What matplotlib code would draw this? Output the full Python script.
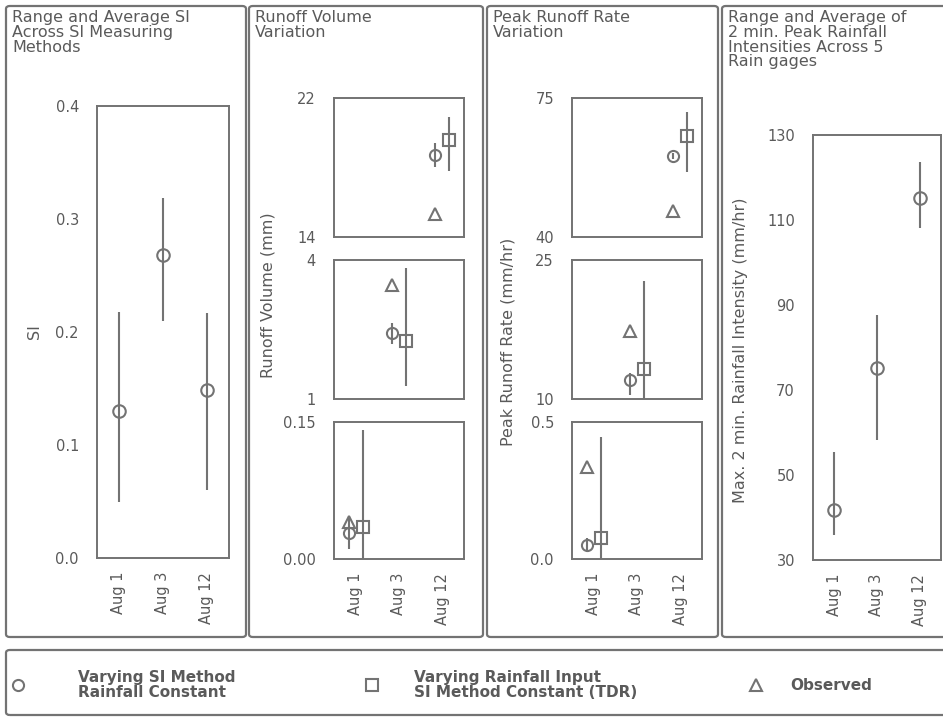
import matplotlib
matplotlib.use("Agg")
import matplotlib.pyplot as plt
from matplotlib.patches import FancyBboxPatch
from matplotlib.lines import Line2D

plt.rcParams['font.family'] = ['DejaVu Sans']

# ---- data -------------------------------------------------------------
dates = ["Aug 1", "Aug 3", "Aug 12"]

# Soil index (SI): average and range across measuring methods
si_mean = [0.130, 0.268, 0.149]
si_low = [0.050, 0.210, 0.060]
si_high = [0.218, 0.319, 0.217]

# Runoff volume (mm)
vol_si_mean = [0.029, 2.43, 18.7]
vol_si_low = [0.011, 2.18, 18.0]
vol_si_high = [0.047, 2.65, 19.4]
vol_rain_mean = [0.035, 2.26, 19.6]
vol_rain_low = [0.000, 1.28, 17.8]
vol_rain_high = [0.141, 3.83, 20.9]
vol_obs = [0.040, 3.46, 15.3]
vol_limits = [(0.0, 0.15), (1, 4), (14, 22)]
vol_ticklabels = [("0.00", "0.15"), ("1", "4"), ("14", "22")]

# Peak runoff rate (mm/hr)
rate_si_mean = [0.051, 12.1, 60.4]
rate_si_low = [0.030, 10.4, 59.6]
rate_si_high = [0.075, 12.8, 61.2]
rate_rain_mean = [0.077, 13.2, 65.4]
rate_rain_low = [0.000, 10.0, 56.4]
rate_rain_high = [0.445, 22.7, 71.5]
rate_obs = [0.336, 17.3, 46.6]
rate_limits = [(0.0, 0.5), (10, 25), (40, 75)]
rate_ticklabels = [("0.0", "0.5"), ("10", "25"), ("40", "75")]

# Max 2-min rainfall intensity (mm/hr) across 5 rain gages
rain_mean = [41.8, 75.2, 115.2]
rain_low = [35.9, 58.2, 108.1]
rain_high = [55.4, 87.6, 123.6]

# ---- style ------------------------------------------------------------
W, H = 943, 720
TXT = '#5a5a5a'
LN = '#737373'
FS = 11.5      # titles and axis labels
TFS = 10.5     # tick labels
OFF = 0.16     # horizontal offset between the two simulated series

fig = plt.figure(figsize=(W / 100, H / 100), dpi=100)
fig.patch.set_facecolor('white')


def box(x0, y0, x1, y1):
    return [x0 / W, 1 - y1 / H, (x1 - x0) / W, (y1 - y0) / H]


def fx(x):
    return x / W


def fy(y):
    return 1 - y / H


def frame(x0, y0, x1, y1):
    p = FancyBboxPatch((fx(x0), fy(y1)), fx(x1) - fx(x0), fy(y0) - fy(y1),
                       boxstyle="round,pad=0,rounding_size=0.004",
                       transform=fig.transFigure, fill=False,
                       edgecolor=LN, linewidth=1.6, clip_on=False)
    fig.add_artist(p)


def style_axes(ax, ylim, yticks, yticklabels, show_x):
    ax.set_xlim(0.5, 3.5)
    ax.set_ylim(*ylim)
    ax.set_yticks(yticks)
    ax.set_yticklabels(yticklabels)
    ax.tick_params(axis='y', length=0, pad=13, labelsize=TFS, labelcolor=TXT)
    if show_x:
        ax.set_xticks([1, 2, 3])
        ax.set_xticklabels(dates, rotation=90)
        ax.tick_params(axis='x', length=0, pad=10, labelsize=TFS, labelcolor=TXT)
    else:
        ax.set_xticks([])
    for s in ax.spines.values():
        s.set_color(LN)
        s.set_linewidth(1.4)


def range_point(ax, x, mean, lo, hi, marker, ms):
    ax.plot([x, x], [lo, hi], color=LN, lw=1.5, solid_capstyle='butt', zorder=2)
    ax.plot([x], [mean], marker=marker, ms=ms, mfc='none', mec=LN, mew=1.5,
            linestyle='none', zorder=3)


# ---- outer panels -----------------------------------------------------
frame(6, 6, 246, 637)
frame(249, 6, 483, 637)
frame(487, 6, 718, 637)
frame(722, 6, 965, 637)
frame(6, 650, 965, 715)

titles = [
    (12, "Range and Average SI\nAcross SI Measuring\nMethods"),
    (255, "Runoff Volume\nVariation"),
    (493, "Peak Runoff Rate\nVariation"),
    (728, "Range and Average of\n2 min. Peak Rainfall\nIntensities Across 5\nRain gages"),
]
for x, t in titles:
    fig.text(fx(x), fy(10), t, ha='left', va='top', fontsize=FS, color=TXT,
             linespacing=0.98)

# ---- SI panel ---------------------------------------------------------
ax1 = fig.add_axes(box(97, 106, 229, 558))
style_axes(ax1, (0.0, 0.4), [0.0, 0.1, 0.2, 0.3, 0.4],
           ["0.0", "0.1", "0.2", "0.3", "0.4"], True)
for i in range(3):
    range_point(ax1, i + 1, si_mean[i], si_low[i], si_high[i], 'o', 9)
fig.text(fx(35), fy(332), "SI", rotation=90, ha='center', va='center',
         fontsize=FS, color=TXT)

# ---- stacked panels (one date per sub-axes) ---------------------------
sub_rows = [(422, 559), (260, 399), (98, 237)]  # Aug 1, Aug 3, Aug 12


def stacked(x0, x1, limits, ticklabels, si_m, si_l, si_h, r_m, r_l, r_h, obs):
    for i, (y0, y1) in enumerate(sub_rows):
        ax = fig.add_axes(box(x0, y0, x1, y1))
        style_axes(ax, limits[i], list(limits[i]), list(ticklabels[i]), i == 0)
        x = i + 1
        range_point(ax, x + OFF, r_m[i], r_l[i], r_h[i], 's', 8)
        range_point(ax, x - OFF, si_m[i], si_l[i], si_h[i], 'o', 8)
        ax.plot([x - OFF], [obs[i]], marker='^', ms=9, mfc='none', mec=LN,
                mew=1.5, linestyle='none', zorder=3)


stacked(334, 464, vol_limits, vol_ticklabels, vol_si_mean, vol_si_low,
        vol_si_high, vol_rain_mean, vol_rain_low, vol_rain_high, vol_obs)
fig.text(fx(268), fy(295), "Runoff Volume (mm)", rotation=90, ha='center',
         va='center', fontsize=FS, color=TXT)

stacked(572, 702, rate_limits, rate_ticklabels, rate_si_mean, rate_si_low,
        rate_si_high, rate_rain_mean, rate_rain_low, rate_rain_high, rate_obs)
fig.text(fx(508), fy(342), "Peak Runoff Rate (mm/hr)", rotation=90,
         ha='center', va='center', fontsize=FS, color=TXT)

# ---- rainfall panel ---------------------------------------------------
ax4 = fig.add_axes(box(813, 135, 941, 560))
style_axes(ax4, (30, 130), [30, 50, 70, 90, 110, 130],
           ["30", "50", "70", "90", "110", "130"], True)
for i in range(3):
    range_point(ax4, i + 1, rain_mean[i], rain_low[i], rain_high[i], 'o', 9)
fig.text(fx(741), fy(350), "Max. 2 min. Rainfall Intensity (mm/hr)",
         rotation=90, ha='center', va='center', fontsize=FS, color=TXT)

# ---- legend -----------------------------------------------------------
legend_items = [
    (18, 'o', 78, "Varying SI Method\nRainfall Constant"),
    (372, 's', 414, "Varying Rainfall Input\nSI Method Constant (TDR)"),
    (756, '^', 790, "Observed"),
]
for mx, mk, tx, label in legend_items:
    fig.add_artist(Line2D([fx(mx)], [fy(685)], marker=mk, ms=8, mfc='none',
                          mec=LN, mew=1.5, linestyle='none',
                          transform=fig.transFigure))
    fig.text(fx(tx), fy(685), label, ha='left', va='center', fontsize=FS - 0.5,
             color=TXT, fontweight='bold', linespacing=1.0)

fig.savefig("out.png", dpi=100, facecolor='white')
